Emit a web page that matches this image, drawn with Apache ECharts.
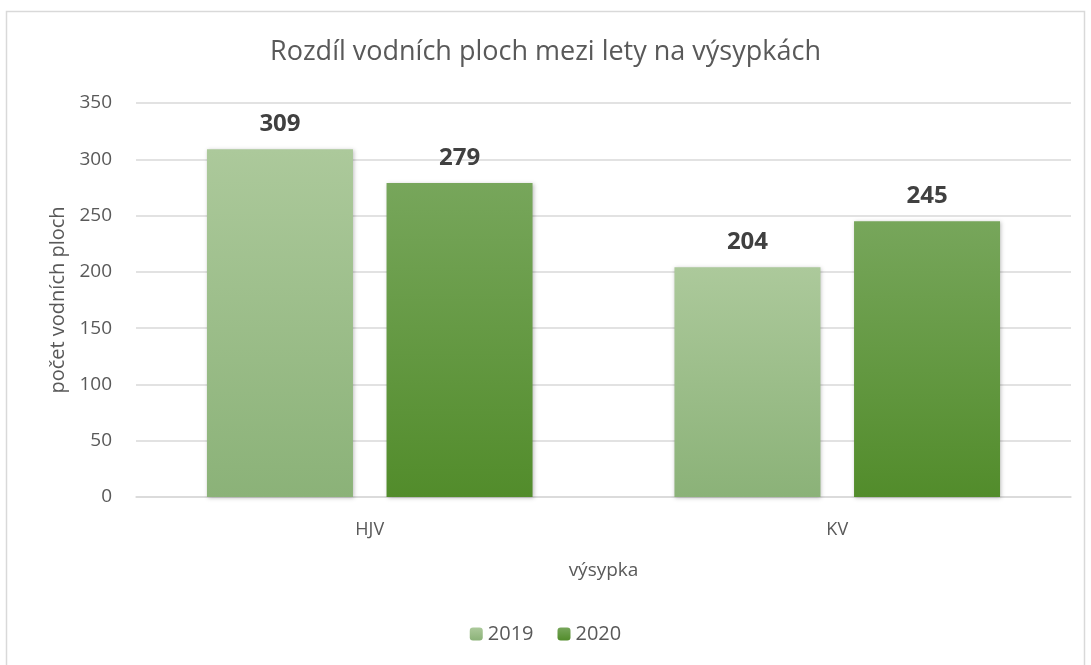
<meta charset="utf-8">
<script src="https://cdn.jsdelivr.net/npm/echarts/dist/echarts.min.js"></script>
<div id="main" style="position: absolute; left: 0; top: 0; width: 1091px; height: 665px;"></div>

<script type="text/javascript">
const categories = ['HJV', 'KV']
const years = ['2019', '2020']
const values2019 = [309, 204]
const values2020 = [279, 245]
const yTicks = [0, 50, 100, 150, 200, 250, 300, 350]

let myChart = echarts.init(main)

const grad = (top, bottom) => new echarts.graphic.LinearGradient(0, 0, 0, 1, [
  {offset: 0, color: top}, {offset: 1, color: bottom}
])

const barSeries = (name, data, top, bottom) => ({
  name: name,
  type: 'bar',
  data: data,
  barWidth: 146,
  barGap: '23%',
  itemStyle: {
    color: grad(top, bottom),
    shadowColor: 'rgba(0,0,0,0.25)',
    shadowBlur: 4,
    shadowOffsetX: 1,
    shadowOffsetY: 1,
  },
  label: {
    show: true,
    position: 'top',
    distance: 13,
    fontSize: 24,
    fontWeight: 'bold',
    color: '#404040',
    fontFamily: 'Open Sans',
  },
})

myChart.setOption({
  backgroundColor: '#fff',
  animation: false,
  textStyle: {fontFamily: 'Open Sans', color: '#595959'},
  graphic: [{
    type: 'rect',
    shape: {x: 6.5, y: 11.5, width: 1078, height: 660},
    style: {fill: 'none', stroke: '#d9d9d9', lineWidth: 1.5},
    silent: true,
  }],
  title: {
    text: 'Rozdíl vodních ploch mezi lety na výsypkách',
    left: 'center',
    top: 34,
    textStyle: {fontSize: 27, fontWeight: 'normal', color: '#595959', fontFamily: 'Open Sans'},
  },
  legend: {
    data: years,
    bottom: 16,
    left: 'center',
    itemWidth: 13,
    itemHeight: 13,
    itemGap: 24,
    textStyle: {fontSize: 20, color: '#595959'},
  },
  grid: {left: 136, right: 20, top: 103, bottom: 168},
  xAxis: {
    type: 'category',
    data: categories,
    name: 'výsypka',
    nameLocation: 'middle',
    nameGap: 64,
    nameTextStyle: {fontSize: 19, color: '#595959'},
    axisLine: {lineStyle: {color: '#d9d9d9', width: 1.5}},
    axisTick: {show: false},
    axisLabel: {fontSize: 18, color: '#595959', margin: 24},
  },
  yAxis: {
    type: 'value',
    min: yTicks[0],
    max: yTicks[yTicks.length - 1],
    interval: 50,
    name: 'počet vodních ploch',
    nameLocation: 'middle',
    nameGap: 66,
    nameRotate: 90,
    nameTextStyle: {fontSize: 20, color: '#595959'},
    axisLine: {show: false},
    axisTick: {show: false},
    axisLabel: {fontSize: 19, color: '#595959', margin: 24},
    splitLine: {lineStyle: {color: '#d9d9d9', width: 1.5}},
  },
  series: [
    barSeries(years[0], values2019, '#acc99b', '#8bb278'),
    barSeries(years[1], values2020, '#77a65b', '#528c2b'),
  ],
})
</script>
